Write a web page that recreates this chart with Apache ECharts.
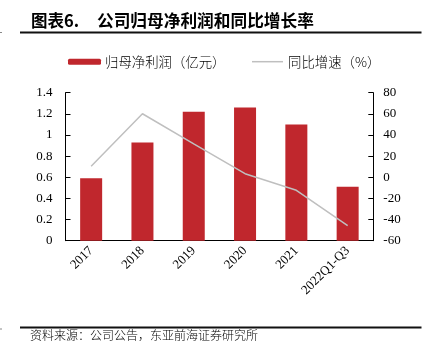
<!DOCTYPE html>
<html>
<head>
<meta charset="utf-8">
<script src="https://cdn.jsdelivr.net/npm/echarts@6/dist/echarts.min.js"></script>
<style>html,body{margin:0;padding:0;background:#fff;}#c{width:428px;height:356px;}</style>
</head>
<body>
<div id="c"></div>
<script>
var categories = ['2017', '2018', '2019', '2020', '2021', '2022Q1-Q3'];
var profit = [0.59, 0.93, 1.22, 1.26, 1.10, 0.51];
var growth = [10.4, 60.1, 31.5, 3.4, -12.3, -45.8];
var leftTicks = {min: 0, max: 1.4, interval: 0.2};
var rightTicks = {min: -60, max: 80, interval: 20};

var chart = echarts.init(document.getElementById('c'));
var serif = '"Liberation Serif","DejaVu Serif",serif';
var cjk = '"Noto Sans CJK SC",sans-serif';
chart.setOption({
  animation: false,
  backgroundColor: '#fff',
  grid: {left: 65.5, right: 54.7, top: 92.7, bottom: 115.3},
  legend: [{
    data: ['归母净利润（亿元）'],
    left: 63, top: 50,
    itemWidth: 33, itemHeight: 6, itemGap: 4,
    textStyle: {fontFamily: cjk, fontSize: 13.4, fontWeight: 300, color: '#000', padding: [0, 0, 0, -1]}
  }, {
    data: [{name: '同比增速（%）', icon: 'rect', itemStyle: {color: '#BFBFBF'}}],
    left: 247, top: 50,
    itemWidth: 31, itemHeight: 1.5,
    textStyle: {fontFamily: cjk, fontSize: 13.4, fontWeight: 300, color: '#000'}
  }],
  xAxis: {
    type: 'category',
    data: categories,
    axisLine: {lineStyle: {color: '#000', width: 1}},
    axisTick: {show: false},
    axisLabel: {rotate: 45, fontFamily: serif, fontSize: 13, color: '#000', margin: 8, interval: 0}
  },
  yAxis: [{
    type: 'value',
    min: leftTicks.min, max: leftTicks.max, interval: leftTicks.interval,
    splitLine: {show: false},
    axisLine: {show: true, lineStyle: {color: '#000'}},
    axisTick: {show: true, inside: true, length: 5, lineStyle: {color: '#000'}},
    axisLabel: {fontFamily: serif, fontSize: 13, color: '#000', margin: 13}
  }, {
    type: 'value',
    min: rightTicks.min, max: rightTicks.max, interval: rightTicks.interval,
    splitLine: {show: false},
    axisLine: {show: true, lineStyle: {color: '#000'}},
    axisTick: {show: true, inside: true, length: 5, lineStyle: {color: '#000'}},
    axisLabel: {fontFamily: serif, fontSize: 13, color: '#000', margin: 10}
  }],
  series: [{
    name: '归母净利润（亿元）',
    type: 'bar',
    data: profit,
    barWidth: 22,
    itemStyle: {color: '#C0272D'}
  }, {
    name: '同比增速（%）',
    type: 'line',
    yAxisIndex: 1,
    data: growth,
    symbol: 'none',
    lineStyle: {color: '#BFBFBF', width: 1.5},
    itemStyle: {color: '#BFBFBF'}
  }],
  graphic: [
    {type: 'text', left: 31, top: 12, style: {text: '图表6.', font: 'bold 16.5px ' + cjk, fill: '#000'}},
    {type: 'text', left: 97, top: 12, style: {text: '公司归母净利润和同比增长率', font: 'bold 16.7px ' + cjk, fill: '#000'}},
    {type: 'line', shape: {x1: 20, y1: 32.5, x2: 421.5, y2: 32.5}, style: {stroke: '#111', lineWidth: 2}},
    {type: 'line', shape: {x1: 20, y1: 327.5, x2: 421.5, y2: 327.5}, style: {stroke: '#111', lineWidth: 2}},
    {type: 'line', shape: {x1: 0, y1: 32.5, x2: 2, y2: 32.5}, style: {stroke: '#888', lineWidth: 1}},
    {type: 'line', shape: {x1: 0, y1: 329, x2: 2, y2: 329}, style: {stroke: '#888', lineWidth: 1}},
    {type: 'text', left: 30, top: 329, style: {text: '资料来源：公司公告，东亚前海证券研究所', font: '300 12px ' + cjk, fill: '#000'}}
  ]
});
</script>
</body>
</html>
